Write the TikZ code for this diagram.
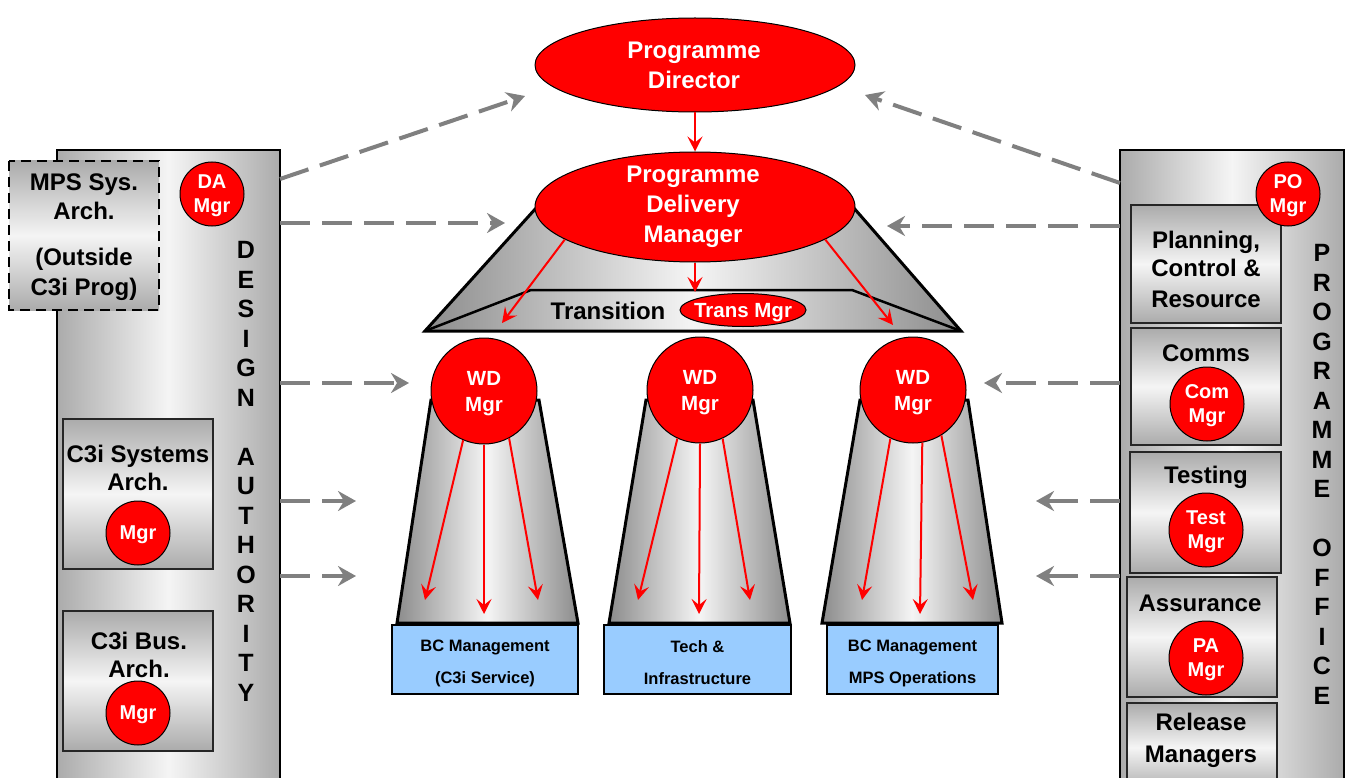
\documentclass[tikz,border=0pt]{standalone}
\usepackage{fontspec}
\setmainfont{Liberation Sans}
\usetikzlibrary{shapes.geometric,arrows.meta}
\definecolor{pred}{HTML}{FF0000}
\definecolor{edgegray}{HTML}{ABABAB}
\definecolor{darkedge}{HTML}{8C8C8C}
\definecolor{dashgray}{HTML}{808080}
\definecolor{bcblue}{HTML}{99CCFF}
\tikzset{
  colshade/.style={left color=edgegray, right color=edgegray, middle color=white!96!black, draw=black, line width=2pt},
  boxshade/.style={top color=edgegray, bottom color=edgegray, middle color=white!96!black, draw=black!85, line width=2pt},
  funnelshade/.style={left color=darkedge, right color=darkedge, middle color=white!96!black, draw=black, line width=3pt, line join=miter},
  boxtext/.style={font=\bfseries\fontsize{24}{28}\selectfont, align=center, inner sep=0pt, text=black},
  lettercol/.style={font=\bfseries\fontsize{25}{29.5}\selectfont, align=center, inner sep=0pt},
  redcirc/.style={circle, fill=pred, draw=black, line width=1pt, inner sep=0pt, text=white, font=\bfseries\fontsize{20}{24}\selectfont, align=center, text depth=0pt},
  redell/.style={ellipse, fill=pred, draw=black, line width=1pt, inner sep=0pt},
  whitetext/.style={text=white, font=\bfseries\fontsize{24}{30}\selectfont, align=center, inner sep=0pt},
  bcbox/.style={rectangle, fill=bcblue, draw=black, line width=2pt, minimum height=69pt, inner sep=0pt, font=\bfseries\fontsize{16.5}{32}\selectfont, align=center},
  bctext/.style={font=\bfseries\fontsize{16.5}{32}\selectfont, align=center, inner sep=0pt},
  dasharrow/.style={draw=dashgray, line width=4pt, dash pattern=on 30pt off 12pt, -{Stealth[length=18pt,width=20pt,inset=6pt]}},
  redarrow/.style={draw=pred, line width=2pt, -{Stealth[length=15pt,width=15pt,inset=6pt]}}
}
\begin{document}
\begin{tikzpicture}[x=1pt,y=-1pt]
\useasboundingbox[fill=white] (0,0) rectangle (1348,778);

% ---------- side columns ----------
\shadedraw[colshade] (57,150) rectangle (280,792);
\shadedraw[colshade] (1120,150) rectangle (1344,792);

% left column content
\shadedraw[boxshade, draw=black, dash pattern=on 10pt off 6pt] (9,161) rectangle (159,310);
\node[boxtext] (mps1) at (84,197) {MPS Sys.\\[1pt]Arch.};
\node[boxtext] (mps2) at (84,274) {(Outside\\[2pt]C3i Prog)};
\node[redcirc, minimum size=64pt] (damgr) at (212,194) {DA\\Mgr};
\node[lettercol] (datext) at (246,471.5) {D\\E\\S\\I\\G\\N\\[29.5pt]A\\U\\T\\H\\O\\R\\I\\T\\Y};

\shadedraw[boxshade] (63,419) rectangle (213,569);
\node[boxtext] (sysarch) at (138,468) {C3i Systems\\Arch.};
\node[redcirc, minimum size=64pt] (sysmgr) at (138,533) {Mgr};

\shadedraw[boxshade] (63,611) rectangle (213,751);
\node[boxtext] (busarch) at (139,655) {C3i Bus.\\Arch.};
\node[redcirc, minimum size=64pt] (busmgr) at (138,713) {Mgr};

% right column content
\shadedraw[boxshade] (1131,205) rectangle (1281,323);
\node[boxtext] (plan) at (1206,269) {Planning,\\Control \&\\[3pt]Resource};
\node[redcirc, minimum size=64pt] (pomgr) at (1288,194) {PO\\Mgr};

\shadedraw[boxshade] (1131,328) rectangle (1281,445);
\node[boxtext] (comms) at (1206,353) {Comms};
\node[redcirc, minimum size=74pt] (commgr) at (1207,404) {Com\\Mgr};

\shadedraw[boxshade] (1130,452) rectangle (1281,573);
\node[boxtext] (testing) at (1206,477) {Testing};
\node[redcirc, minimum size=74pt] (testmgr) at (1206,530) {Test\\Mgr};

\shadedraw[boxshade] (1127,577) rectangle (1277,697);
\node[boxtext] (assur) at (1200,603) {Assurance};
\node[redcirc, minimum size=74pt] (pamgr) at (1206,658) {PA\\Mgr};

\shadedraw[boxshade] (1127,703) rectangle (1277,792);
\node[boxtext] (release) at (1201,740) {Release\\[4pt]Managers};

\node[lettercol] (potext) at (1322,474.5) {P\\R\\O\\G\\R\\A\\M\\M\\E\\[29.5pt]O\\F\\F\\I\\C\\E};

% ---------- dashed arrows ----------
\coordinate (l1s) at (280,179); \coordinate (l1e) at (525,96);
\coordinate (l2s) at (280,223); \coordinate (l2e) at (505,223);
\coordinate (l3s) at (280,383); \coordinate (l3e) at (409,383);
\coordinate (l4s) at (280,501); \coordinate (l4e) at (356,501);
\coordinate (l5s) at (280,576); \coordinate (l5e) at (356,576);
\coordinate (r1s) at (1120,183); \coordinate (r1e) at (865,95);
\coordinate (r2s) at (1120,226); \coordinate (r2e) at (887,226);
\coordinate (r3s) at (1120,383); \coordinate (r3e) at (984,383);
\coordinate (r4s) at (1120,501); \coordinate (r4e) at (1036,501);
\coordinate (r5s) at (1120,576); \coordinate (r5e) at (1036,576);
\foreach \s/\e in {l1s/l1e,l2s/l2e,l3s/l3e,l4s/l4e,l5s/l5e,r1s/r1e,r2s/r2e,r3s/r3e,r4s/r4e,r5s/r5e}
  \draw[dasharrow] (\s) -- (\e);

% ---------- transition trapezoid ----------
\shadedraw[funnelshade] (425,331) -- (537,207) -- (853,207) -- (961,331) -- cycle;
\draw[black, line width=2.5pt, line join=miter] (425,331) -- (531,290) -- (852,290) -- (961,331);
\node[font=\bfseries\fontsize{24}{28}\selectfont, inner sep=0pt] (trans) at (608,311) {Transition};
\node[redell, minimum width=126pt, minimum height=33pt] (transmgr) at (743,310) {};
\node[text=white, font=\bfseries\fontsize{20.5}{24}\selectfont, inner sep=0pt] (transmgrt) at (743,313) {Trans Mgr};

% ---------- PDM & director ----------
\node[redell, minimum width=320pt, minimum height=110pt] (pdm) at (695,207) {};
\coordinate (t1) at (502,323);
\coordinate (t2) at (695,292);
\coordinate (t3) at (893,325);
\draw[redarrow] (pdm.-166) -- (t1);
\draw[redarrow] (pdm.south) -- (t2);
\draw[redarrow] (pdm.-14) -- (t3);
\node[whitetext] (pdmt) at (693,207) {Programme\\Delivery\\Manager};

\node[redell, minimum width=320pt, minimum height=94pt] (dir) at (695,65) {};
\node[whitetext] (dirt) at (694,65.5) {Programme\\Director};
\draw[redarrow] (dir.south) -- (pdm.north);

% ---------- funnels ----------
\shadedraw[funnelshade] (397,623) -- (431,400) -- (539,400) -- (578,623) -- cycle;
\shadedraw[funnelshade] (609,623) -- (646,400) -- (753,400) -- (790,623) -- cycle;
\shadedraw[funnelshade] (822,623) -- (860,400) -- (968,400) -- (1002,623) -- cycle;

\node[redcirc, minimum size=106pt, font=\bfseries\fontsize{20.5}{26}\selectfont] (wd1) at (484,391) {WD\\Mgr};
\node[redcirc, minimum size=106pt, font=\bfseries\fontsize{20.5}{26}\selectfont] (wd2) at (700,390) {WD\\Mgr};
\node[redcirc, minimum size=106pt, font=\bfseries\fontsize{20.5}{26}\selectfont] (wd3) at (913,390) {WD\\Mgr};

\coordinate (a1l) at (425,600); \coordinate (a1c) at (484,614); \coordinate (a1r) at (538,600);
\coordinate (a2l) at (638,600); \coordinate (a2c) at (699,614); \coordinate (a2r) at (750,600);
\coordinate (a3l) at (862,600); \coordinate (a3c) at (920,614); \coordinate (a3r) at (973,600);
\draw[redarrow] (wd1.-113) -- (a1l);
\draw[redarrow] (wd1.south) -- (a1c);
\draw[redarrow] (wd1.-62) -- (a1r);
\draw[redarrow] (wd2.-115) -- (a2l);
\draw[redarrow] (wd2.south) -- (a2c);
\draw[redarrow] (wd2.-65) -- (a2r);
\draw[redarrow] (wd3.-115) -- (a3l);
\draw[redarrow] (wd3.-80) -- (a3c);
\draw[redarrow] (wd3.-58) -- (a3r);

% ---------- blue boxes ----------
\node[bcbox, minimum width=186pt] (bc1) at (485,659.5) {};
\node[bctext] (bc1t) at (485,663) {BC Management\\(C3i Service)};
\node[bcbox, minimum width=187pt] (bc2) at (697.5,659.5) {};
\node[bctext] (bc2t) at (697.5,663) {Tech \&\\Infrastructure};
\node[bcbox, minimum width=171pt] (bc3) at (912.5,659.5) {};
\node[bctext] (bc3t) at (912.5,663) {BC Management\\MPS Operations};
\end{tikzpicture}
\end{document}
